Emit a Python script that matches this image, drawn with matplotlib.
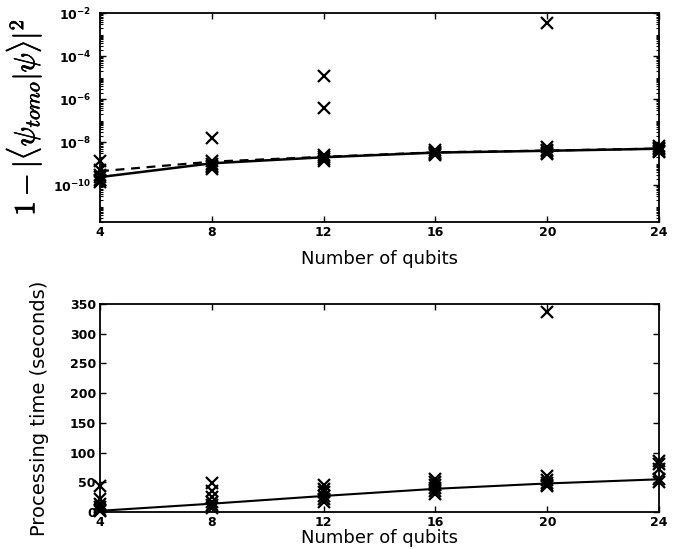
import math
import matplotlib
matplotlib.use("Agg")
import matplotlib.pyplot as plt
import matplotlib.patheffects as pe
from matplotlib.ticker import FixedLocator, LogLocator, NullFormatter, FuncFormatter

qubits = [4, 8, 12, 16, 20, 24]

# Infidelity per trial for each register size
infid_trials = {
    4: [1.3e-9, 5e-10, 3e-10, 2.4e-10, 1.8e-10, 1.4e-10],
    8: [1.5e-8, 1.4e-9, 1.0e-9, 8e-10, 7e-10, 6e-10],
    12: [1.2e-5, 4e-7, 2.5e-9, 2.1e-9, 1.7e-9, 1.3e-9],
    16: [4.2e-9, 3.7e-9, 3.3e-9, 2.9e-9, 2.6e-9],
    20: [3.5e-3, 6e-9, 4.5e-9, 3.8e-9, 3.3e-9, 2.9e-9],
    24: [6.5e-9, 5.5e-9, 4.6e-9, 4.0e-9, 3.4e-9],
}
infid_solid = [2.4e-10, 1.05e-9, 2.0e-9, 3.3e-9, 4.0e-9, 5.0e-9]
infid_dashed = [4.5e-10, 1.25e-9, 2.1e-9, 3.4e-9, 4.1e-9, 5.1e-9]

# Processing time per trial (seconds)
time_trials = {
    4: [43, 22, 14, 9, 4, 1],
    8: [48, 35, 25, 16, 11, 7],
    12: [45, 39, 33, 27, 22, 17],
    16: [55, 50, 45, 40, 35, 30],
    20: [337, 60, 53, 49, 46, 44],
    24: [85, 80, 73, 56, 51],
}
time_fit = [2, 14, 27, 39, 48, 55]

fig = plt.figure(figsize=(6.76, 5.49), dpi=100)
ax1 = fig.add_axes([0.148, 0.596, 0.827, 0.380])
ax2 = fig.add_axes([0.148, 0.0674, 0.827, 0.379])

tick_font = dict(fontsize=9, fontweight="bold")

# ---- infidelity panel ----
for n in qubits:
    ys = infid_trials[n]
    ax1.plot([n] * len(ys), ys, linestyle="none", marker="x", color="black",
             markersize=9, markeredgewidth=1.6, clip_on=False, zorder=3)
ax1.plot(qubits, infid_solid, color="black", lw=1.8, zorder=2)
ax1.plot(qubits, infid_dashed, color="black", lw=1.6, ls=(0, (4, 3)), zorder=2)
ax1.set_yscale("log")
ax1.set_xlim(4, 24)
ax1.set_ylim(2e-12, 1e-2)
ax1.yaxis.set_major_locator(FixedLocator([1e-10, 1e-8, 1e-6, 1e-4, 1e-2]))
ax1.yaxis.set_major_formatter(FuncFormatter(
    lambda v, p: r"$\mathbf{10}^{\mathbf{%d}}$" % round(math.log10(v))))
ax1.yaxis.set_minor_locator(LogLocator(base=10, subs=range(1, 10), numticks=30))
ax1.yaxis.set_minor_formatter(NullFormatter())
ax1.set_xticks(qubits)
ax1.set_xticklabels([str(q) for q in qubits], **tick_font)
for t in ax1.get_yticklabels():
    t.set_fontsize(9)
ax1.set_xlabel("Number of qubits", fontsize=13, labelpad=8)
ylab = ax1.set_ylabel(r"$1-|\langle\psi_{tomo}|\psi\rangle|^2$",
                      fontsize=21, labelpad=7)
ylab.set_math_fontfamily("cm")
ylab.set_path_effects([pe.withStroke(linewidth=0.5, foreground="black")])

# ---- processing time panel ----
for n in qubits:
    ys = time_trials[n]
    ax2.plot([n] * len(ys), ys, linestyle="none", marker="x", color="black",
             markersize=9, markeredgewidth=1.6, clip_on=False, zorder=3)
ax2.plot(qubits, time_fit, color="black", lw=1.5, zorder=2)
ax2.set_xlim(4, 24)
ax2.set_ylim(0, 350)
ax2.set_yticks([0, 50, 100, 150, 200, 250, 300, 350])
ax2.set_yticklabels(["0", "50", "100", "150", "200", "250", "300", "350"], **tick_font)
ax2.set_xticks(qubits)
ax2.set_xticklabels([str(q) for q in qubits], **tick_font)
ax2.set_xlabel("Number of qubits", fontsize=13, labelpad=0)
ax2.set_ylabel("Processing time (seconds)", fontsize=14, labelpad=15)

for ax in (ax1, ax2):
    ax.tick_params(which="both", direction="in", top=True, right=True,
                   colors="black")
    ax.tick_params(which="major", length=4, width=1, pad=3)
    ax.tick_params(which="minor", length=2, width=0.8)
    for s in ax.spines.values():
        s.set_linewidth(1.3)
        s.set_color("black")
ax1.tick_params(axis="y", which="major", pad=6)

fig.savefig("out.png", dpi=100)
